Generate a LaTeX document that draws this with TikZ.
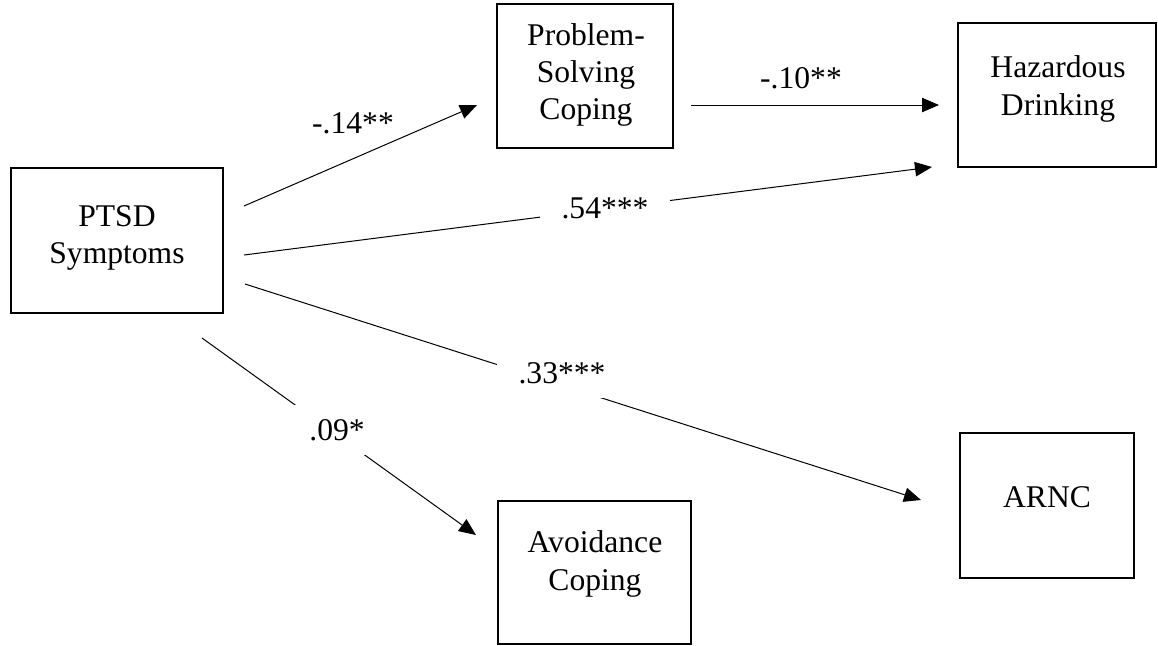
\documentclass[tikz,border=0pt]{standalone}
\usepackage{fontspec}
\setmainfont{Liberation Serif}
\usetikzlibrary{arrows.meta}
\tikzset{
  box/.style={draw=black, line width=0.7pt, rectangle, inner sep=0pt},
  txt/.style={align=center, inner sep=0pt, font=\fontsize{15.8pt}{18.7pt}\selectfont},
  lab/.style={inner sep=0pt, font=\fontsize{15.8pt}{18.7pt}\selectfont},
  gaplab/.style={lab, fill=white, inner xsep=11pt, inner ysep=7pt},
  arr/.style={line width=0.5pt, -{Triangle[length=8.5pt,width=7.2pt]}}
}
\begin{document}
\begin{tikzpicture}[x=0.5pt, y=-0.5pt]
\useasboundingbox (0,0) rectangle (1158,645);
% boxes
\node[box, minimum width=106pt, minimum height=72.5pt] (ptsd) at (117,240.5) {};
\node[box, minimum width=88pt, minimum height=72pt] (psc) at (585,76) {};
\node[box, minimum width=99pt, minimum height=72pt] (haz) at (1057,95) {};
\node[box, minimum width=87pt, minimum height=72.5pt] (arnc) at (1047,505.5) {};
\node[box, minimum width=96.5pt, minimum height=71.5pt] (avo) at (594.5,572.5) {};
% box texts
\node[txt] (ptsdT) at (117,238) {PTSD\\Symptoms};
\node[txt] (pscT) at (586,75) {Problem-\\Solving\\Coping};
\node[txt] (hazT) at (1058,89) {Hazardous\\Drinking};
\node[txt] (arncT) at (1047,497) {ARNC};
\node[txt] (avoT) at (595,564) {Avoidance\\Coping};
% connector end points
\coordinate (s1) at (244,206);  \coordinate (e1) at (477,105);
\coordinate (s2) at (691,105);  \coordinate (e2) at (939,105);
\coordinate (s3) at (244,255);  \coordinate (e3) at (932,167);
\coordinate (s4) at (245,284);  \coordinate (e4) at (921,500);
\coordinate (s5) at (202,338);  \coordinate (e5) at (476,535);
% connectors
\draw[arr] (s1) -- (e1);
\draw[arr] (s2) -- (e2);
\draw[arr] (s3) -- (e3);
\draw[arr] (s4) -- (e4);
\draw[arr] (s5) -- (e5);
% labels
\node[lab] (l14) at (353,123) {-.14**};
\node[lab] (l10) at (801,78) {-.10**};
\node[gaplab] (l54) at (605,208) {.54***};
\node[gaplab] (l33) at (562,373) {.33***};
\node[gaplab] (l09) at (337,430) {.09*};
\end{tikzpicture}
\end{document}
